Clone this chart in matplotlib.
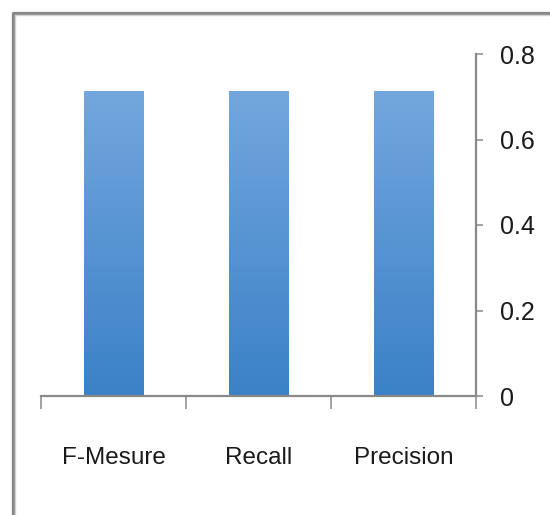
import numpy as np
import matplotlib.pyplot as plt
from matplotlib.lines import Line2D
from matplotlib.colors import LinearSegmentedColormap

# scores per metric
categories = ['F-Mesure', 'Recall', 'Precision']
scores = [0.714, 0.714, 0.714]
y_ticks = [0, 0.2, 0.4, 0.6, 0.8]
y_tick_labels = ['0', '0.2', '0.4', '0.6', '0.8']

W, H = 550, 515
plt.rcParams['font.family'] = ['Liberation Sans Narrow', 'Liberation Sans', 'DejaVu Sans']

fig = plt.figure(figsize=(W / 100, H / 100), dpi=100)
ax = fig.add_axes([41 / W, (H - 396) / H, (476 - 41) / W, (396 - 54) / H])

axis_grey = '#898989'
text_col = '#1a1a1a'
x = np.arange(len(categories))
bars = ax.bar(x, scores, width=0.41, color='none', edgecolor='none', zorder=2)

# vertical blue gradient clipped to each bar
grad_cmap = LinearSegmentedColormap.from_list('bar_grad', ['#3b81c7', '#73a7de'])
grad = np.linspace(0, 1, 256).reshape(-1, 1)
for b in bars:
    x0, w, h = b.get_x(), b.get_width(), b.get_height()
    im = ax.imshow(grad, cmap=grad_cmap, origin='lower', aspect='auto',
                   extent=[x0, x0 + w, 0, h], zorder=2)
    im.set_clip_path(b)

ax.set_xlim(-0.5, len(categories) - 0.5)
ax.set_ylim(0, 0.8)

# value axis on the right
ax.yaxis.tick_right()
ax.set_yticks(y_ticks)
ax.set_yticklabels(y_tick_labels)
ax.tick_params(axis='y', direction='out', length=5, width=1.1, color=axis_grey,
               pad=12, labelsize=18, labelcolor=text_col)

# category labels with boundary ticks below the axis
ax.set_xticks(x)
ax.set_xticklabels(categories)
ax.set_xticks(np.arange(-0.5, len(categories)), minor=True)
ax.tick_params(axis='x', which='major', length=0, pad=37, labelsize=17.5,
               labelcolor=text_col)
ax.tick_params(axis='x', which='minor', direction='out', length=9, width=1.1,
               color=axis_grey)

for side in ['left', 'top']:
    ax.spines[side].set_visible(False)
for side in ['right', 'bottom']:
    ax.spines[side].set_color(axis_grey)
    ax.spines[side].set_linewidth(1.6)

# outer chart frame running off the edges
fx, fy = 12.5 / W, 1 - 12.5 / H
fig.add_artist(Line2D([fx, fx, 1.0], [0.0, fy, fy], transform=fig.transFigure,
                      color='#8a8a8a', linewidth=2.4))
fig.add_artist(Line2D([fx + 2.2 / W, fx + 2.2 / W, 1.0],
                      [0.0, fy - 2.2 / H, fy - 2.2 / H], transform=fig.transFigure,
                      color='#d4d4d4', linewidth=1.0))

fig.savefig('out.png', dpi=100)
